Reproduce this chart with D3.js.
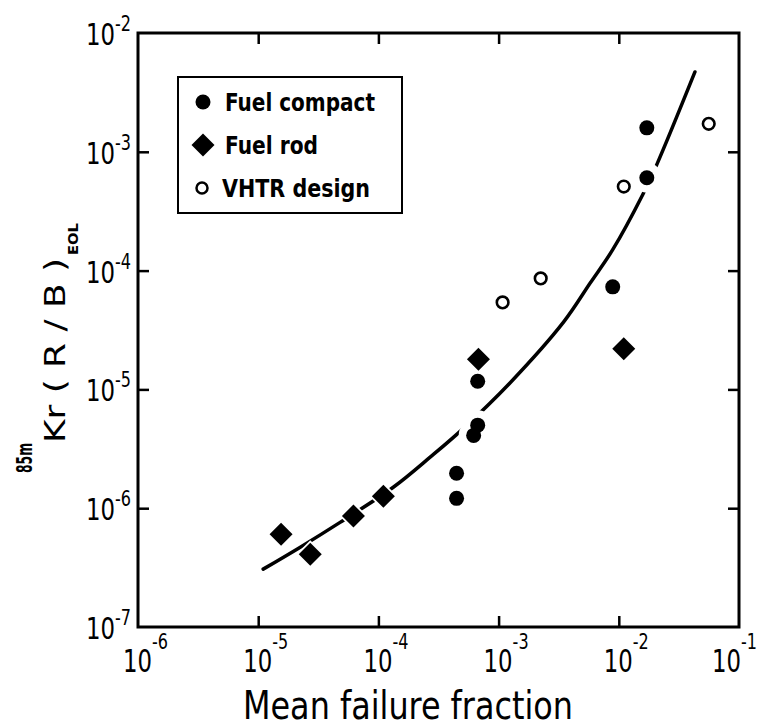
<!DOCTYPE html>
<html>
<head>
<meta charset="utf-8">
<script src="https://cdn.jsdelivr.net/npm/d3@7"></script>
<style>
  body { margin: 0; background: #fff; }
  text { font-family: 'DejaVu Sans Condensed', 'Liberation Sans Narrow', 'DejaVu Sans', sans-serif; fill: #000; }
</style>
</head>
<body>
<div id="visualization"></div>
<script>
// values
const compactX = [0.0171, 0.0171, 0.0089, 6.7e-4, 6.7e-4, 6.2e-4, 4.47e-4, 4.47e-4];
const compactY = [1.59e-3, 6.05e-4, 7.3e-5, 1.17e-5, 5.0e-6, 4.1e-6, 1.97e-6, 1.21e-6];
const rodX = [1.55e-5, 2.71e-5, 6.2e-5, 1.1e-4, 6.8e-4, 0.011];
const rodY = [6.05e-7, 4.1e-7, 8.6e-7, 1.26e-6, 1.79e-5, 2.2e-5];
const vhtrX = [0.056, 0.011, 2.24e-3, 1.08e-3];
const vhtrY = [1.72e-3, 5.1e-4, 8.6e-5, 5.4e-5];
const fitX = [1.1e-5, 2.24e-5, 4.8e-5, 1.33e-4, 2.71e-4, 5.1e-4, 1.26e-3, 3.48e-3, 5.8e-3, 8.9e-3, 1.58e-2, 2.07e-2, 4.3e-2];
const fitY = [3.07e-7, 4.7e-7, 7.6e-7, 1.5e-6, 2.7e-6, 4.7e-6, 1.15e-5, 3.7e-5, 7.9e-5, 1.5e-4, 4.35e-4, 7.8e-4, 4.7e-3];
const xTickExps = [-6, -5, -4, -3, -2, -1];
const yTickExps = [-2, -3, -4, -5, -6, -7];
const legendLabels = ["Fuel compact", "Fuel rod", "VHTR design"];

const width = 760, height = 727;
const frame = {left: 138, right: 739, top: 33, bottom: 627};

const svg = d3.select("#visualization")
    .append("svg")
    .attr("width", width)
    .attr("height", height);

const x = d3.scaleLog().domain([1e-6, 1e-1]).range([frame.left, frame.right]);
const y = d3.scaleLog().domain([1e-7, 1e-2]).range([frame.bottom, frame.top]);

const zip = (a, b) => a.map((v, i) => [v, b[i]]);
const compact = zip(compactX, compactY);
const rods = zip(rodX, rodY);
const vhtr = zip(vhtrX, vhtrY);
const fit = zip(fitX, fitY);

const diamond = (h) => `M0,${-h}L${h},0L0,${h}L${-h},0Z`;

// frame ticks, pointing inward
const innerX = xTickExps.slice(1, -1).map((e) => Math.pow(10, e));
const innerY = yTickExps.slice(1, -1).map((e) => Math.pow(10, e));

const axes = [
    [d3.axisBottom(x).tickValues(innerX), `translate(0,${frame.bottom})`],
    [d3.axisTop(x).tickValues(innerX), `translate(0,${frame.top})`],
    [d3.axisLeft(y).tickValues(innerY), `translate(${frame.left},0)`],
    [d3.axisRight(y).tickValues(innerY), `translate(${frame.right},0)`]
];
axes.forEach(([ax, tr]) => {
    const g = svg.append("g")
        .attr("transform", tr)
        .call(ax.tickSize(-11).tickFormat(""));
    g.select(".domain").remove();
    g.selectAll("line").attr("stroke", "#000").attr("stroke-width", 2.5);
});

svg.append("rect")
    .attr("x", frame.left).attr("y", frame.top)
    .attr("width", frame.right - frame.left).attr("height", frame.bottom - frame.top)
    .attr("fill", "none").attr("stroke", "#000").attr("stroke-width", 3);

// tick labels 10^n, one text each with a raised exponent
function power(px, py, e, big, small, rise) {
    const t = svg.append("text").attr("x", px).attr("y", py).attr("font-size", big);
    t.append("tspan").attr("textLength", 29).attr("lengthAdjust", "spacingAndGlyphs").text("10");
    t.append("tspan").attr("font-size", small).attr("dy", -rise)
        .attr("textLength", 16).attr("lengthAdjust", "spacingAndGlyphs").text(e);
}
xTickExps.forEach((e) => {
    const px = x(Math.pow(10, e));
    const shift = Math.min(0, 758 - (px + 31));
    power(px - 15 + shift, 672, e, 32, 21, 23);
});
yTickExps.forEach((e) => {
    const py = y(Math.pow(10, e));
    power(86, py + 12, e, 31, 22, 14);
});

// axis titles
svg.append("text").attr("x", 243).attr("y", 719)
    .attr("font-size", 39).attr("textLength", 330).attr("lengthAdjust", "spacingAndGlyphs")
    .text("Mean failure fraction");

const ylab = svg.append("text").attr("transform", "translate(65,473) rotate(-90)").attr("font-size", 28);
ylab.append("tspan").attr("font-size", 22).attr("font-weight", "bold").attr("dy", -33)
    .attr("textLength", 30).attr("lengthAdjust", "spacingAndGlyphs").text("85m");
ylab.append("tspan").attr("dy", 33)
    .attr("textLength", 185).attr("lengthAdjust", "spacingAndGlyphs").text("Kr ( R / B )");
ylab.append("tspan").attr("font-size", 14).attr("font-weight", "bold").attr("dx", 3).attr("dy", 13)
    .attr("textLength", 32).attr("lengthAdjust", "spacingAndGlyphs").text("EOL");

// fitted curve
svg.append("path")
    .datum(fit)
    .attr("fill", "none")
    .attr("stroke", "#000")
    .attr("stroke-width", 3.5)
    .attr("stroke-linecap", "round")
    .attr("d", d3.line().x((d) => x(d[0])).y((d) => y(d[1])).curve(d3.curveCatmullRom));

// white knockouts where the curve breaks around markers
const halo = svg.append("g").attr("fill", "#fff");
halo.selectAll(".hc").data(compact).enter().append("circle")
    .attr("cx", (d) => x(d[0])).attr("cy", (d) => y(d[1])).attr("r", 15);
halo.selectAll(".hv").data(vhtr).enter().append("circle")
    .attr("cx", (d) => x(d[0])).attr("cy", (d) => y(d[1])).attr("r", 9);
halo.selectAll(".hr").data(rods).enter().append("path")
    .attr("transform", (d) => `translate(${x(d[0])},${y(d[1])})`).attr("d", diamond(14));

// markers
svg.selectAll(".compact").data(compact).enter().append("circle")
    .attr("class", "compact")
    .attr("cx", (d) => x(d[0])).attr("cy", (d) => y(d[1])).attr("r", 7.5)
    .attr("fill", "#000");
svg.selectAll(".rod").data(rods).enter().append("path")
    .attr("class", "rod")
    .attr("transform", (d) => `translate(${x(d[0])},${y(d[1])})`)
    .attr("d", diamond(11.5))
    .attr("fill", "#000");
svg.selectAll(".vhtr").data(vhtr).enter().append("circle")
    .attr("class", "vhtr")
    .attr("cx", (d) => x(d[0])).attr("cy", (d) => y(d[1])).attr("r", 5.8)
    .attr("fill", "#fff").attr("stroke", "#000").attr("stroke-width", 2.6);

// legend
const legend = svg.append("g");
legend.append("rect")
    .attr("x", 178).attr("y", 77).attr("width", 224).attr("height", 136)
    .attr("fill", "#fff").attr("stroke", "#000").attr("stroke-width", 2);
const legendY = [102, 145, 188];
const legendW = [150, 93, 148];
legend.append("circle").attr("cx", 203).attr("cy", legendY[0]).attr("r", 7.5).attr("fill", "#000");
legend.append("path").attr("transform", `translate(203,${legendY[1]})`).attr("d", diamond(11.5)).attr("fill", "#000");
legend.append("circle").attr("cx", 202).attr("cy", legendY[2]).attr("r", 5.5)
    .attr("fill", "#fff").attr("stroke", "#000").attr("stroke-width", 2.5);
legendLabels.forEach((t, i) => {
    legend.append("text")
        .attr("x", i === 2 ? 222 : 225).attr("y", legendY[i] + 9)
        .attr("font-size", 25).attr("font-weight", "bold")
        .attr("textLength", legendW[i]).attr("lengthAdjust", "spacingAndGlyphs")
        .text(t);
});
</script>
</body>
</html>
